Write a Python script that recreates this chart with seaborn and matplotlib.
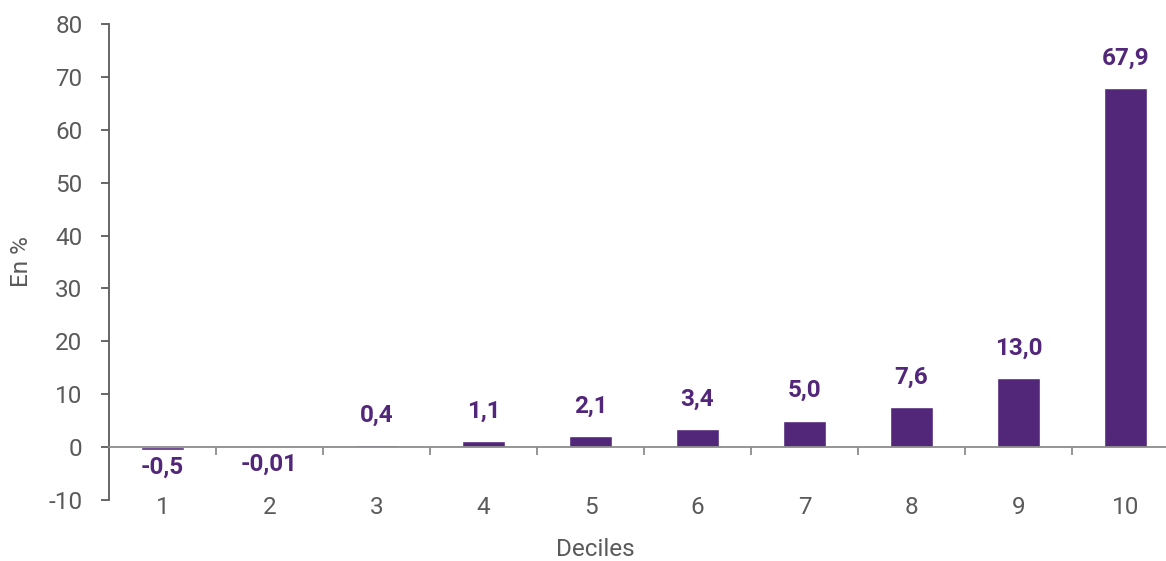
import matplotlib
matplotlib.use("Agg")
import matplotlib.pyplot as plt
import seaborn as sns
import pandas as pd
from matplotlib.ticker import FixedLocator

categories = ["1", "2", "3", "4", "5", "6", "7", "8", "9", "10"]
values = [-0.5, -0.01, 0.4, 1.1, 2.1, 3.4, 5.0, 7.6, 13.0, 67.9]
value_labels = ["-0,5", "-0,01", "0,4", "1,1", "2,1", "3,4", "5,0", "7,6", "13,0", "67,9"]
y_ticks = [-10, 0, 10, 20, 30, 40, 50, 60, 70, 80]

PURPLE = "#52277A"
GREY = "#5A5A5A"
AXIS_GREY = "#8C8C8C"
FS = 17.5

sns.set_theme(style="white")
plt.rcParams['font.family'] = ['Roboto', 'DejaVu Sans']

df = pd.DataFrame({"decile": categories, "value": values})

fig = plt.figure(figsize=(11.66, 5.61), dpi=100)
# axes extends a bit past the right edge, like the reference
ax = fig.add_axes([109 / 1166, 61 / 561, 1070 / 1166, 476 / 561])

sns.barplot(data=df, x="decile", y="value", color=PURPLE, width=0.40,
            saturation=1, ax=ax)

ax.set_ylim(-10, 80)
ax.set_xlim(-0.5, len(categories) - 0.5)
ax.set_yticks(y_ticks)
ax.set_yticklabels([str(t) for t in y_ticks])

for s in ["top", "right"]:
    ax.spines[s].set_visible(False)
ax.spines["left"].set_color(GREY)
ax.spines["left"].set_linewidth(1.3)
ax.spines["bottom"].set_position(("data", 0))
ax.spines["bottom"].set_color(AXIS_GREY)
ax.spines["bottom"].set_linewidth(1.3)

ax.tick_params(axis="y", which="major", direction="out", length=6, width=1.3,
               color=GREY, labelsize=FS, labelcolor=GREY, pad=13, left=True)
ax.tick_params(axis="x", which="major", length=0, labelsize=FS,
               labelcolor=GREY, pad=35)
ax.xaxis.set_minor_locator(FixedLocator([i + 0.5 for i in range(len(categories) - 1)]))
ax.tick_params(axis="x", which="minor", direction="out", length=6, width=1.3,
               color=AXIS_GREY, bottom=True)

ax.set_xlabel("Deciles", fontsize=FS, color=GREY)
ax.xaxis.label.set_va("center")
ax.xaxis.set_label_coords((595 - 109) / 1070, (500 - 550) / 476)
ax.set_ylabel("En %", fontsize=FS, color=GREY)
ax.yaxis.label.set_va("center")
ax.yaxis.set_label_coords((22 - 109) / 1070, 0.5)

for i, (v, lab) in enumerate(zip(values, value_labels)):
    if v >= 0:
        ax.annotate(lab, (i, v), xytext=(0, 17), textcoords="offset points",
                    ha="center", va="baseline", fontsize=FS, fontweight="bold",
                    color=PURPLE)
    else:
        ax.annotate(lab, (i, v), xytext=(0, -4), textcoords="offset points",
                    ha="center", va="top", fontsize=FS, fontweight="bold",
                    color=PURPLE)

fig.savefig("out.png", dpi=100)
